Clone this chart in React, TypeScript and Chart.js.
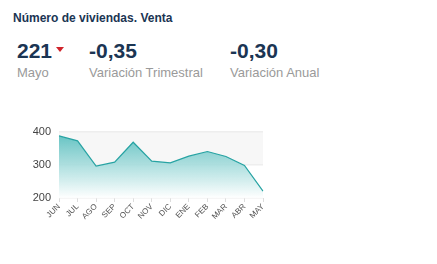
import React, { useEffect, useRef } from "react";
import { Chart, registerables } from "chart.js";

Chart.register(...registerables);

const categories = ["JUN", "JUL", "AGO", "SEP", "OCT", "NOV", "DIC", "ENE", "FEB", "MAR", "ABR", "MAY"];
const ventas = [387, 372, 296, 308, 368, 311, 306, 326, 340, 325, 298, 221];
const yTicks = [200, 300, 400];

const title = "Número de viviendas. Venta";
const mainValue = "221";
const mainLabel = "Mayo";
const varTrim = "-0,35";
const varTrimLabel = "Variación Trimestral";
const varAnual = "-0,30";
const varAnualLabel = "Variación Anual";

const FONT = "'Liberation Sans', Arial, Helvetica, sans-serif";
const NAVY = "#1b3553";
const GREY = "#9a9a9a";

const bandPlugin = {
  id: "bands",
  beforeDraw(chart: any) {
    const { ctx, chartArea, scales } = chart;
    const y = scales.y;
    const top = y.getPixelForValue(400);
    const mid = y.getPixelForValue(300);
    ctx.save();
    ctx.fillStyle = "#f7f7f7";
    ctx.fillRect(chartArea.left, top, chartArea.right - chartArea.left, mid - top);
    ctx.restore();
  },
};

export default function App() {
  const ref = useRef<HTMLCanvasElement>(null);
  useEffect(() => {
    if (!ref.current) return;
    const chart = new Chart(ref.current, {
      type: "line",
      data: {
        labels: categories,
        datasets: [
          {
            data: ventas,
            borderColor: "#27a3a3",
            borderWidth: 1.2,
            pointRadius: 0,
            tension: 0,
            fill: "start",
            backgroundColor: (context: any) => {
              const { chart } = context;
              const area = chart.chartArea;
              if (!area) return "rgba(110,200,200,0.6)";
              const g = chart.ctx.createLinearGradient(0, area.top, 0, area.bottom);
              g.addColorStop(0, "rgba(92,192,192,1)");
              g.addColorStop(0.5, "rgba(160,218,218,0.85)");
              g.addColorStop(1, "rgba(255,255,255,0.9)");
              return g;
            },
          },
        ],
      },
      options: {
        animation: false,
        responsive: false,
        maintainAspectRatio: false,
        layout: { padding: { top: 7, right: 7, left: 0, bottom: 0 } },
        plugins: { legend: { display: false }, tooltip: { enabled: false } },
        scales: {
          x: {
            offset: false,
            grid: { drawOnChartArea: false, drawTicks: true, tickLength: 4, color: "#dddddd" },
            border: { display: false },
            ticks: {
              maxRotation: 45,
              minRotation: 45,
              autoSkip: false,
              padding: 0,
              color: "#555",
              font: { family: FONT, size: 8 },
            },
            afterFit: (s: any) => {
              s.height = 32;
            },
          },
          y: {
            min: 200,
            max: 400,
            afterBuildTicks: (s: any) => {
              s.ticks = yTicks.map((v) => ({ value: v }));
            },
            grid: { color: "#eeeeee", drawTicks: false, lineWidth: 1.5 },
            border: { display: false },
            ticks: {
              padding: 8,
              color: "#444",
              font: { family: FONT, size: 11 },
            },
            afterFit: (s: any) => {
              s.width = 59;
            },
          },
        },
      },
      plugins: [bandPlugin],
    } as any);
    return () => chart.destroy();
  }, []);

  const abs = (left: number, top: number, size: number, color: string, weight: any = "normal"): React.CSSProperties => ({
    position: "absolute",
    left,
    top,
    fontSize: size,
    lineHeight: 1,
    color,
    fontWeight: weight,
    fontFamily: FONT,
    whiteSpace: "nowrap",
  });

  return (
    <div style={{ position: "fixed", left: 0, top: 0, width: 437, height: 264, background: "#fff", overflow: "hidden" }}>
      <div style={abs(13, 12, 12, NAVY, "bold")}>{title}</div>
      <div style={abs(17, 40, 21, NAVY, "bold")}>{mainValue}</div>
      <div
        style={{
          position: "absolute",
          left: 56,
          top: 47,
          width: 0,
          height: 0,
          borderLeft: "4px solid transparent",
          borderRight: "4px solid transparent",
          borderTop: "5px solid #d0242b",
        }}
      />
      <div style={abs(17, 66, 13, GREY)}>{mainLabel}</div>
      <div style={abs(89, 40, 21, NAVY, "bold")}>{varTrim}</div>
      <div style={abs(89, 66, 13, GREY)}>{varTrimLabel}</div>
      <div style={abs(230, 40, 21, NAVY, "bold")}>{varAnual}</div>
      <div style={abs(230, 66, 13, GREY)}>{varAnualLabel}</div>
      <canvas ref={ref} width={270} height={113} style={{ position: "absolute", left: 0, top: 117, width: 270, height: 113 }} />
    </div>
  );
}
